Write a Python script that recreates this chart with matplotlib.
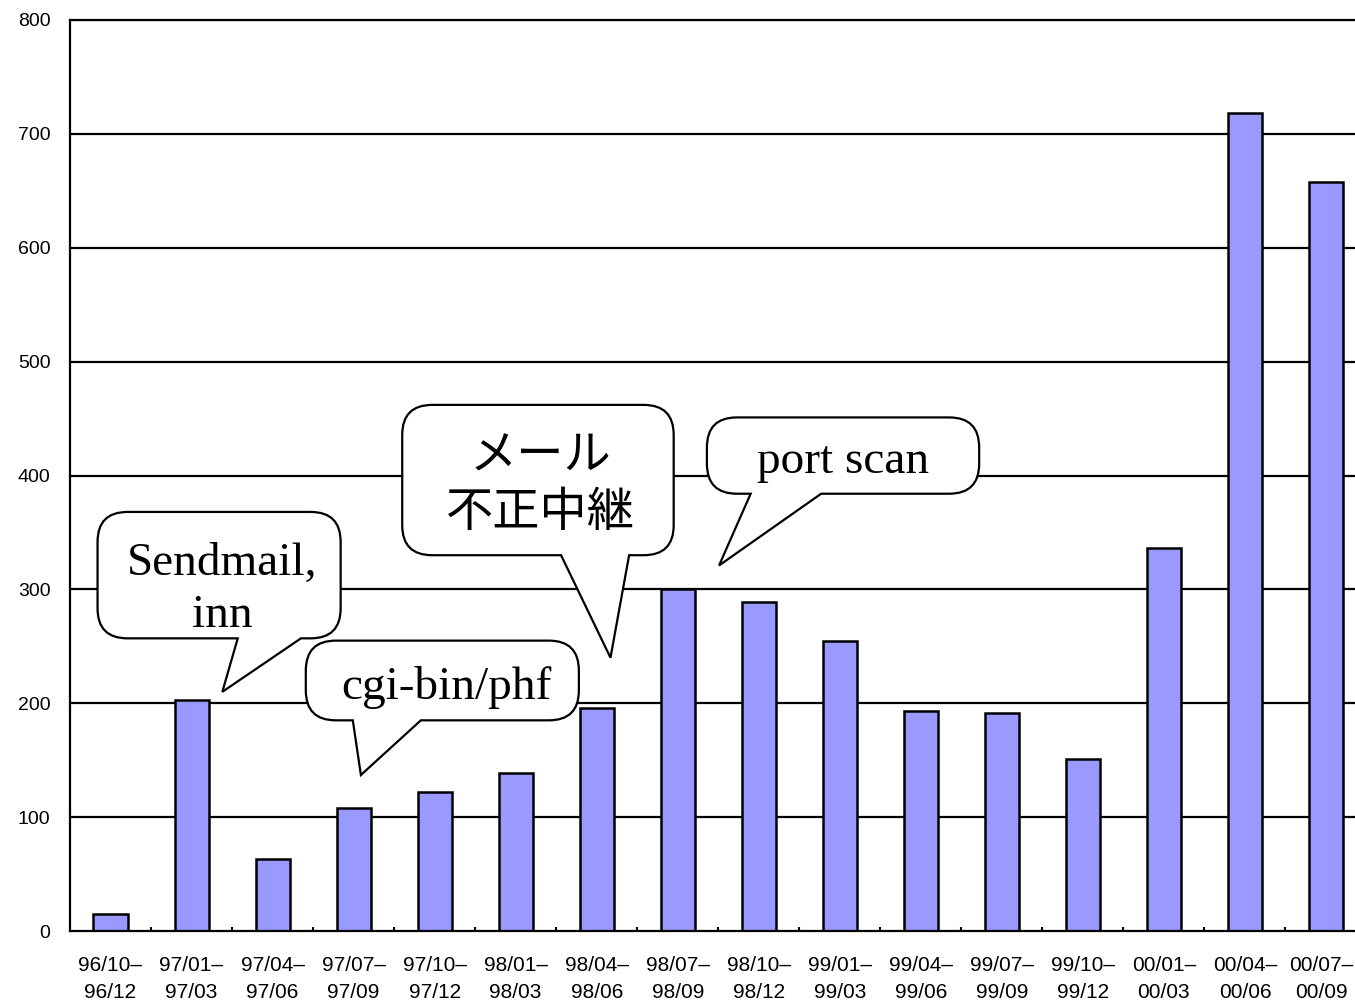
import matplotlib
matplotlib.use("Agg")
import matplotlib.pyplot as plt
from matplotlib.path import Path
from matplotlib.patches import PathPatch
from matplotlib.transforms import IdentityTransform, ScaledTranslation
import numpy as np

# ---------------- data ----------------
periods = ["96/10–\n96/12", "97/01–\n97/03", "97/04–\n97/06", "97/07–\n97/09",
           "97/10–\n97/12", "98/01–\n98/03", "98/04–\n98/06", "98/07–\n98/09",
           "98/10–\n98/12", "99/01–\n99/03", "99/04–\n99/06", "99/07–\n99/09",
           "99/10–\n99/12", "00/01–\n00/03", "00/04–\n00/06", "00/07–\n00/09"]
counts = [15, 203, 63, 108, 122, 139, 196, 300, 289, 255, 193, 191, 151, 336, 718, 658]
y_ticks = [0, 100, 200, 300, 400, 500, 600, 700, 800]

callout_texts = ["Sendmail,\ninn", "cgi-bin/phf", "メール\n不正中継", "port scan"]

# ---------------- layout of callouts (data coordinates) ----------------
# box: (x_left, x_right, y_bottom, y_top); base: tail base x-range; tip: tail tip
callout_boxes = [(-0.16, 2.84, 257, 368), (2.41, 5.78, 185, 255),
                 (3.60, 6.95, 330, 462), (7.36, 10.72, 384, 451)]
callout_bases = [(1.57, 2.35), (2.99, 3.83), (5.56, 6.40), (7.90, 8.77)]
callout_tips = [(1.38, 210), (3.09, 137), (6.17, 240), (7.51, 321)]
callout_text_pos = [(1.38, 300), (4.14, 214), (5.31, 392), (9.04, 412)]
callout_spacing = [1.3, 1.2, 1.2, 1.2]
callout_fonts = [["Liberation Serif"], ["Liberation Serif"],
                 ["Noto Sans CJK JP", "DejaVu Sans"], ["Liberation Serif"]]

W, H, DPI = 1355, 1006, 100
fig = plt.figure(figsize=(W / DPI, H / DPI), dpi=DPI)
fig.patch.set_facecolor("white")

left_px, right_px, bottom_px, top_px = 70, 1366.5, 931, 20
ax = fig.add_axes([left_px / W, (H - bottom_px) / H,
                   (right_px - left_px) / W, (bottom_px - top_px) / H])

x = np.arange(len(counts))
ax.set_xlim(-0.5, len(counts) - 0.5)
ax.set_ylim(0, 800)

for yv in y_ticks[1:]:
    ax.axhline(yv, color="black", lw=1.6, zorder=1)

ax.bar(x, counts, width=0.42, color="#9999FF", edgecolor="black", linewidth=1.8, zorder=2)

ax.set_yticks(y_ticks)
ax.set_yticklabels([str(v) for v in y_ticks], fontsize=14, family="Liberation Sans")
ax.set_xticks(x)
ax.set_xticklabels(periods, fontsize=15, family="Liberation Sans", linespacing=1.5)
ax.set_xticks(np.arange(len(counts) - 1) + 0.5, minor=True)
ax.tick_params(axis="x", which="major", length=0, pad=18)
ax.tick_params(axis="x", which="minor", length=3, width=1.5, direction="in")
ax.tick_params(axis="y", length=0, pad=14)

# nudge the last (edge) label slightly left so it stays inside the picture
last = ax.get_xticklabels()[-1]
last.set_transform(last.get_transform() + ScaledTranslation(-5 / DPI, 0, fig.dpi_scale_trans))

ax.spines["right"].set_visible(False)
for side in ["left", "bottom", "top"]:
    ax.spines[side].set_linewidth(1.6)
    ax.spines[side].set_color("black")


def bubble(box, base, tip, r=30):
    (bx0, by0) = ax.transData.transform((box[0], box[2]))
    (bx1, by1) = ax.transData.transform((box[1], box[3]))
    tx0, _ = ax.transData.transform((base[0], box[2]))
    tx1, _ = ax.transData.transform((base[1], box[2]))
    tipx, tipy = ax.transData.transform(tip)
    verts = [
        (bx0 + r, by0), (tx0, by0), (tipx, tipy), (tx1, by0), (bx1 - r, by0),
        (bx1, by0), (bx1, by0 + r),
        (bx1, by1 - r),
        (bx1, by1), (bx1 - r, by1),
        (bx0 + r, by1),
        (bx0, by1), (bx0, by1 - r),
        (bx0, by0 + r),
        (bx0, by0), (bx0 + r, by0),
        (bx0 + r, by0),
    ]
    codes = [Path.MOVETO, Path.LINETO, Path.LINETO, Path.LINETO, Path.LINETO,
             Path.CURVE3, Path.CURVE3,
             Path.LINETO,
             Path.CURVE3, Path.CURVE3,
             Path.LINETO,
             Path.CURVE3, Path.CURVE3,
             Path.LINETO,
             Path.CURVE3, Path.CURVE3,
             Path.CLOSEPOLY]
    p = PathPatch(Path(verts, codes), facecolor="white", edgecolor="black",
                  linewidth=1.6, transform=IdentityTransform(), zorder=5,
                  clip_on=False)
    ax.add_artist(p)


for txt, box, base, tip, tpos, fam, ls in zip(callout_texts, callout_boxes, callout_bases,
                                              callout_tips, callout_text_pos, callout_fonts,
                                              callout_spacing):
    bubble(box, base, tip)
    ax.text(tpos[0], tpos[1], txt, ha="center", va="center", fontsize=34,
            family=fam, linespacing=ls, zorder=6, clip_on=False)

fig.savefig("out.png", dpi=DPI, facecolor="white")
